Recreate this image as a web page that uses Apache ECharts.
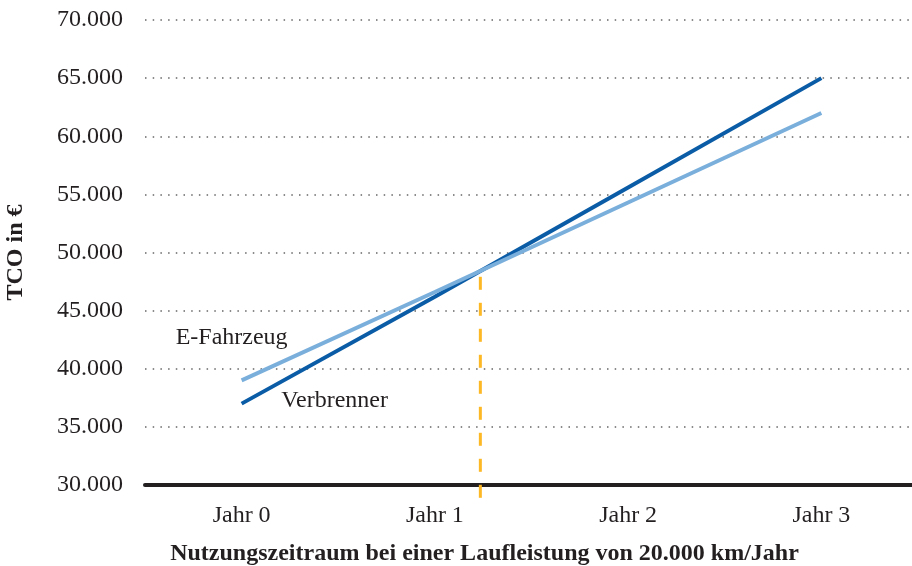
<!DOCTYPE html>
<html>
<head>
<meta charset="utf-8">
<script src="https://cdn.jsdelivr.net/npm/echarts@6/dist/echarts.min.js"></script>
<style>
  html, body { margin: 0; padding: 0; background: #fff; }
  #chart { width: 912px; height: 566px; }
</style>
</head>
<body>
<div id="chart"></div>
<script>
// Nutzungsjahre
const years = ['Jahr 0', 'Jahr 1', 'Jahr 2', 'Jahr 3']
// TCO in Euro je Jahr
const verbrenner = [37000, 46200, 55600, 65000]
const eFahrzeug = [39000, 46600, 54300, 62000]
const yMin = 30000
const yMax = 70000
const yStep = 5000

const textColor = '#231f20'
const serif = 'Liberation Serif'

// Schnittpunkt (Break-even) aus den Daten bestimmen
function breakEven() {
  for (let i = 0; i < years.length - 1; i++) {
    const d0 = verbrenner[i] - eFahrzeug[i]
    const d1 = verbrenner[i + 1] - eFahrzeug[i + 1]
    if (d0 <= 0 && d1 >= 0 || d0 >= 0 && d1 <= 0) {
      const t = d0 / (d0 - d1)
      return [i + t, verbrenner[i] + t * (verbrenner[i + 1] - verbrenner[i])]
    }
  }
  return null
}
const be = breakEven()

const fmt = v => v.toLocaleString('de-DE')

const chart = echarts.init(document.getElementById('chart'))
chart.setOption({
  animation: false,
  grid: { left: 145, top: 20, width: 773, height: 465, outerBoundsMode: 'none', containLabel: false },
  xAxis: [{
    type: 'category',
    data: years,
    name: 'Nutzungszeitraum bei einer Laufleistung von 20.000 km/Jahr',
    nameLocation: 'middle',
    nameGap: 57,
    nameTextStyle: { fontFamily: serif, fontWeight: 'bold', fontSize: 24, color: textColor, padding: [0, 94, 0, 0] },
    axisLine: { lineStyle: { color: textColor, width: 4 } },
    axisTick: { show: false },
    axisLabel: { fontFamily: serif, fontSize: 24, color: textColor, margin: 19 },
    splitLine: { show: false }
  }, {
    type: 'value',
    min: -0.5,
    max: 3.5,
    show: false
  }],
  yAxis: {
    type: 'value',
    min: yMin,
    max: yMax,
    interval: yStep,
    name: 'TCO in €',
    nameLocation: 'middle',
    nameGap: 117,
    nameTextStyle: { fontFamily: serif, fontWeight: 'bold', fontSize: 24, color: textColor },
    axisLine: { show: false },
    axisTick: { show: false },
    axisLabel: { fontFamily: serif, fontSize: 24, color: textColor, margin: 22, formatter: fmt },
    splitLine: { lineStyle: { color: '#666', width: 1.5, type: [1.5, 6.2] } }
  },
  series: [{
    name: 'Verbrenner',
    type: 'line',
    data: verbrenner.map((v, i) => i === 0 ? {
      value: v,
      label: { show: true, position: 'inside', offset: [93, -3], formatter: 'Verbrenner' }
    } : v),
    symbol: 'circle',
    symbolSize: 0,
    lineStyle: { color: '#0b5ca6', width: 4 },
    itemStyle: { color: '#0b5ca6' },
    label: { fontFamily: serif, fontSize: 24, color: textColor },
    z: 3
  }, {
    name: 'E-Fahrzeug',
    type: 'line',
    data: eFahrzeug.map((v, i) => i === 0 ? {
      value: v,
      label: { show: true, position: 'inside', offset: [-10, -43], formatter: 'E-Fahrzeug' }
    } : v),
    symbol: 'circle',
    symbolSize: 0,
    lineStyle: { color: '#7aafdc', width: 4 },
    itemStyle: { color: '#7aafdc' },
    label: { fontFamily: serif, fontSize: 24, color: textColor },
    z: 4
  }, {
    name: 'Break-even',
    type: 'line',
    xAxisIndex: 1,
    clip: false,
    symbol: 'none',
    data: [[be[0], yMin - 1100], [be[0], be[1]]],
    lineStyle: { color: '#fdb825', width: 3, type: [13, 13] },
    z: 5
  }]
})
</script>
</body>
</html>
